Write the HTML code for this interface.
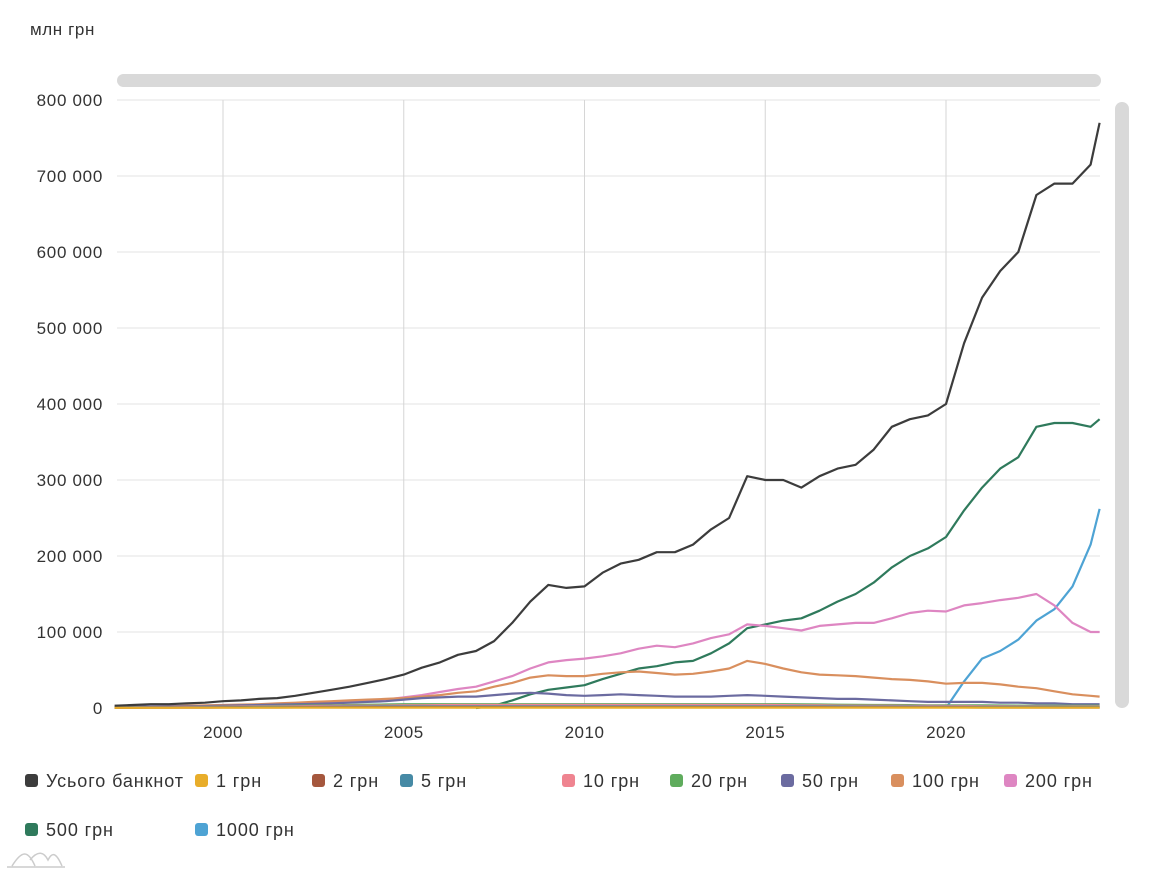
<!DOCTYPE html>
<html><head><meta charset="utf-8"><style>
body{margin:0;background:#fff;font-family:"Liberation Sans",sans-serif}
svg text{font-family:"Liberation Sans",sans-serif;fill:#333}
</style></head><body>
<svg id="chart" width="1160" height="875" xmlns="http://www.w3.org/2000/svg">
<text x="30" y="35" font-size="17" letter-spacing="0.6">млн грн</text>
<rect x="117" y="74" width="984" height="13" rx="6.5" fill="#d9d9d9"/>
<rect x="1115" y="102" width="14" height="606" rx="7" fill="#d9d9d9"/>
<g id="grid"></g><g id="series"></g><g id="legend"></g>
<g fill="none" stroke="#ccc" stroke-width="1.5">
<path d="M7 867 H65 M12 866 C22 850,28 850,35 866 M30 860 C38 850,44 852,48 860 C52 852,56 852,62 866"/>
</g>
</svg>
<script>
const dates=[1997,1997.5,1998,1998.5,1999,1999.5,2000,2000.5,2001,2001.5,2002,2002.5,2003,2003.5,2004,2004.5,2005,2005.5,2006,2006.5,2007,2007.5,2008,2008.5,2009,2009.5,2010,2010.5,2011,2011.5,2012,2012.5,2013,2013.5,2014,2014.5,2015,2015.5,2016,2016.5,2017,2017.5,2018,2018.5,2019,2019.5,2020,2020.5,2021,2021.5,2022,2022.5,2023,2023.5,2024,2024.25];
const total=[3,4,5,5,6,7,9,10,12,13,16,20,24,28,33,38,44,53,60,70,75,88,112,140,162,158,160,178,190,195,205,205,215,235,250,305,300,300,290,305,315,320,340,370,380,385,400,480,540,575,600,675,690,690,715,770];
const g1=[0.3,0.3,0.3,0.3,0.4,0.4,0.4,0.4,0.5,0.5,0.5,0.5,0.5,0.5,0.5,0.5,0.5,0.5,0.5,0.5,0.5,0.5,0.5,0.5,0.5,0.5,0.5,0.5,0.5,0.5,0.5,0.5,0.5,0.5,0.5,0.5,0.5,0.5,0.5,0.5,0.5,0.5,0.5,0.5,0.5,0.5,0.5,0.5,0.5,0.5,0.5,0.5,0.5,0.5,0.5,0.5];
const g2=[0.3,0.3,0.4,0.4,0.5,0.5,0.6,0.6,0.7,0.7,0.8,0.8,0.9,0.9,1,1,1,1,1,1,1,1,1,1,1,1,1,1,1,1,1,1,1,1,1,1,1,1,1,1,0.9,0.9,0.9,0.9,0.8,0.8,0.8,0.8,0.7,0.7,0.7,0.7,0.6,0.6,0.6,0.6];
const g5=[0.5,0.6,0.7,0.8,0.9,1,1.1,1.2,1.3,1.4,1.5,1.6,1.7,1.8,1.9,2,2,2,2,2,2,2,2,2,2,2,2,2,2,2,2,2,2,2,2,2,2,2,2,2,2,1.9,1.9,1.8,1.8,1.7,1.7,1.6,1.6,1.5,1.5,1.4,1.4,1.3,1.3,1.3];
const g10=[0.5,0.6,0.8,1,1.2,1.4,1.6,1.8,2,2.2,2.4,2.6,2.8,3,3,3.2,3.4,3.6,3.8,4,4,4,4,4,4,4,4,4,4,4,4,4,4,4,4,4,4,3.8,3.6,3.4,3.2,3,3,3,2.8,2.8,2.6,2.6,2.4,2.4,2.2,2.2,2,2,2,2];
const g20=[0.5,0.6,0.8,1,1.2,1.5,1.8,2,2.3,2.6,3,3.3,3.6,4,4.3,4.6,5,5,5,5,5,5,5,5,5,5,5,5,5,5,5,5,5,5,5,5,5,5,4.8,4.6,4.4,4.2,4,4,3.8,3.6,3.5,3.5,3.4,3.3,3.2,3,3,3,3,3];
const g50=[1,1.5,2,2,2,2.5,3,3.5,4,4.5,5,5.5,6,7,8,9,11,13,14,15,15,17,19,20,19,17,16,17,18,17,16,15,15,15,16,17,16,15,14,13,12,12,11,10,9,8,8,8,8,7,7,6,6,5,5,5];
const g100=[1,1.5,2,2.5,3,3.5,4,4.5,5,6,7,8,9,10,11,12,13,15,17,20,22,28,33,40,43,42,42,45,47,48,46,44,45,48,52,62,58,52,47,44,43,42,40,38,37,35,32,33,33,31,28,26,22,18,16,15];
const g200=[0.5,0.8,1,1.5,2,2.5,3,3.5,4,4.5,5,6,7,8,9,11,14,17,21,25,28,35,42,52,60,63,65,68,72,78,82,80,85,92,97,110,108,105,102,108,110,112,112,118,125,128,127,135,138,142,145,150,135,112,100,100];
const g500=[null,null,null,null,null,null,null,null,null,null,null,null,null,null,null,null,null,null,null,null,0,3,10,18,24,27,30,38,45,52,55,60,62,72,85,105,110,115,118,128,140,150,165,185,200,210,225,260,290,315,330,370,375,375,370,380];
const g1000=[null,null,null,null,null,null,null,null,null,null,null,null,null,null,null,null,null,null,null,null,null,null,null,null,null,null,null,null,null,null,null,null,null,null,null,null,null,null,null,null,null,null,null,null,null,null,0,35,65,75,90,115,130,160,215,262];
const yTicks=[0,100000,200000,300000,400000,500000,600000,700000,800000];
const yTickLabels=["0","100 000","200 000","300 000","400 000","500 000","600 000","700 000","800 000"];
const xTicks=[2000,2005,2010,2015,2020];
const seriesNames=["Усього банкнот","1 грн","2 грн","5 грн","10 грн","20 грн","50 грн","100 грн","200 грн","500 грн","1000 грн"];
const seriesData=[total,g1,g2,g5,g10,g20,g50,g100,g200,g500,g1000];
const colors=["#3c3c3c","#e8ad2a","#a5573d","#468aa5","#ef8490","#5fac5d","#6b6ba0","#d98f5e","#de86c2","#2f7a5c","#4ea3d4"];
const NS="http://www.w3.org/2000/svg";
const X0=117,X1=1100,Y0=708,Y1=100;
const xs=y=>223+(y-2000)*36.15;
const ys=v=>Y0-v*(Y0-Y1)/800000;
function mk(t,a){const e=document.createElementNS(NS,t);for(const k in a)e.setAttribute(k,a[k]);return e;}
const grid=document.getElementById('grid');
yTicks.forEach((v,i)=>{
 const l=mk('line',{x1:X0,x2:X1,y1:ys(v),y2:ys(v),stroke:'#e3e3e3','stroke-width':1});
 
 
 grid.appendChild(l);
 const t=mk('text',{x:103,y:ys(v)+6,'text-anchor':'end','font-size':17,'letter-spacing':0.7});
 t.textContent=yTickLabels[i];
 
 
 grid.appendChild(t);
});
xTicks.forEach(y=>{
 const l=mk('line',{x1:xs(y),x2:xs(y),y1:Y1,y2:Y0,stroke:'#d6d6d6','stroke-width':1});
 
 
 grid.appendChild(l);
 const t=mk('text',{x:xs(y),y:738,'text-anchor':'middle','font-size':17,'letter-spacing':0.5});
 t.textContent=y;
 
 
 grid.appendChild(t);
});
const sg=document.getElementById('series');
for(let s=seriesData.length-1;s>=0;s--){
 const d=seriesData[s];let p='';let pen=false;
 d.forEach((v,i)=>{if(v===null){pen=false;return;}p+=(pen?'L':'M')+xs(dates[i]).toFixed(1)+' '+ys(v*1000).toFixed(1);pen=true;});
 const path=mk('path',{d:p,fill:'none',stroke:colors[s],'stroke-width':2.2,'stroke-linejoin':'round'});
 
 
 sg.appendChild(path);
}
const legX=[25,195,312,400,562,670,781,891,1004,25,195];
const legY=[781,781,781,781,781,781,781,781,781,830,830];
const lg=document.getElementById('legend');
seriesNames.forEach((n,i)=>{
 const g=mk('g',{});
 
 
 g.appendChild(mk('rect',{x:legX[i],y:legY[i]-7,width:13,height:13,rx:3,fill:colors[i]}));
 const t=mk('text',{x:legX[i]+21,y:legY[i]+6,'font-size':18,'letter-spacing':0.9});
 t.textContent=n;g.appendChild(t);lg.appendChild(g);
});
</script>
</body></html>
